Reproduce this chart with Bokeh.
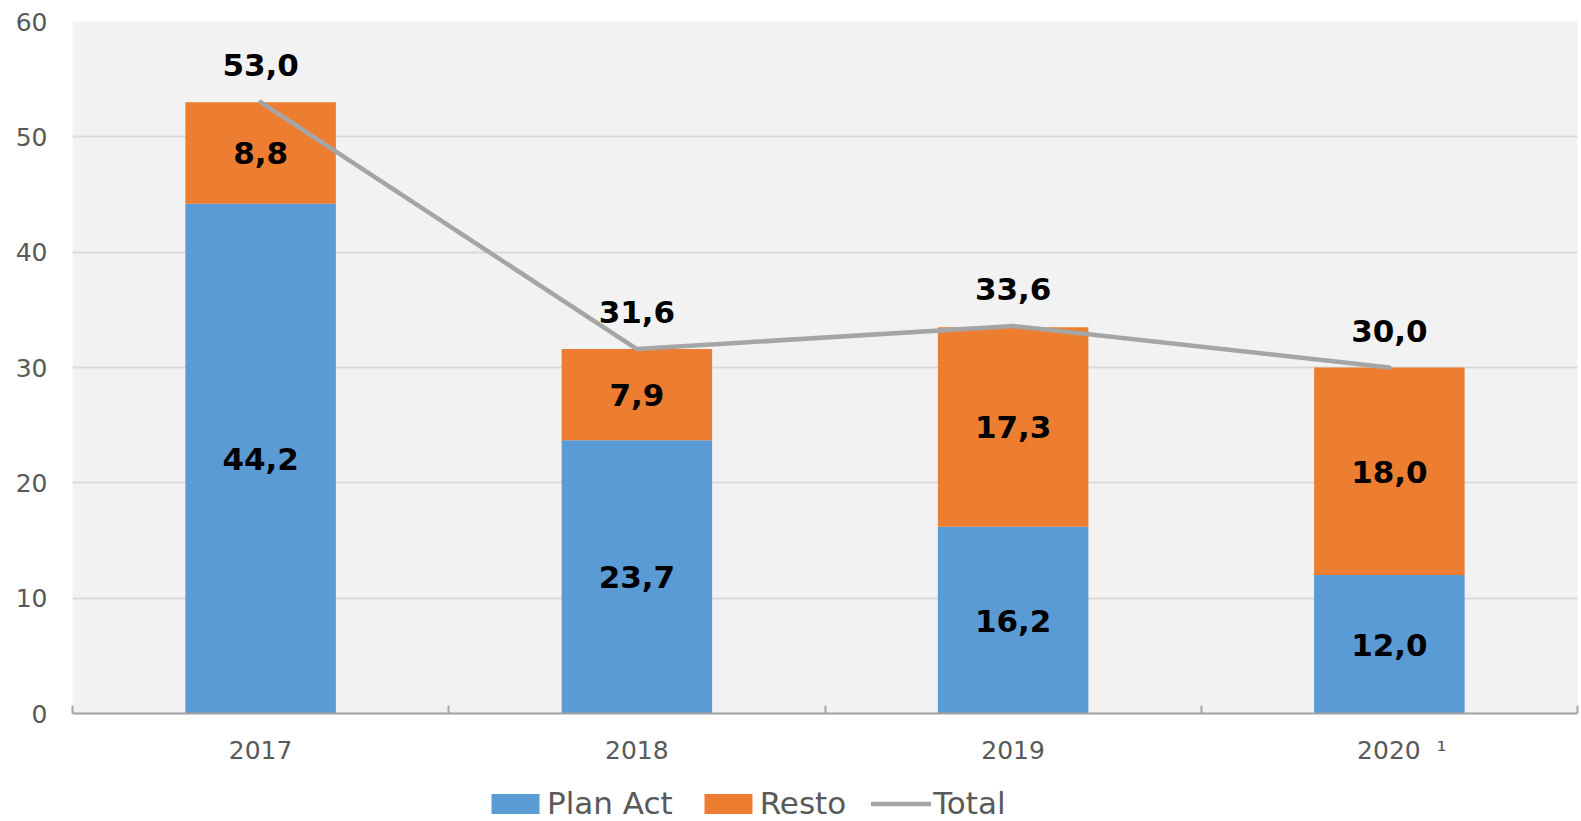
from bokeh.plotting import figure
from bokeh.models import (Range1d, FixedTicker, ColumnDataSource, LabelSet, Legend, LegendItem)
from bokeh.layouts import column
from bokeh.core.properties import value
from bokeh.embed import file_html
from bokeh.resources import INLINE

categories = ["2017", "2018", "2019", "2020"]
footnotes = ["", "", "", "¹"]
plan_act = [44.2, 23.7, 16.2, 12.0]
resto = [8.8, 7.9, 17.3, 18.0]
total = [53.0, 31.6, 33.6, 30.0]
y_ticks = [0, 10, 20, 30, 40, 50, 60]
series_names = ["Plan Act", "Resto", "Total"]

BLUE = "#5B9BD5"
ORANGE = "#ED7D31"
GRAY = "#A5A5A5"
TXT = "#595959"
FONT = "DejaVu Sans"

def fmt(v):
    return f"{v:.1f}".replace(".", ",")

xs = [i + 0.5 for i in range(len(categories))]
resto_top = [a + b for a, b in zip(plan_act, resto)]
plan_mid = [a / 2 for a in plan_act]
resto_mid = [a + b / 2 for a, b in zip(plan_act, resto)]

def tick_label(cat, note):
    if not note:
        return cat
    # pad left so the year itself stays centred under its bar
    return "\u2003" + cat + "\u00a0\u00a0" + note

src = ColumnDataSource(dict(
    x=xs, plan=plan_act, resto=resto, resto_top=resto_top, total=total,
    plan_mid=plan_mid, resto_mid=resto_mid,
    plan_lbl=[fmt(v) for v in plan_act], resto_lbl=[fmt(v) for v in resto],
    total_lbl=[fmt(v) for v in total],
))

p = figure(width=1581, height=773, output_backend="svg", toolbar_location=None,
           x_range=Range1d(0, len(categories)), y_range=Range1d(0, 60),
           min_border_left=72, min_border_right=4, min_border_top=21, min_border_bottom=60)
p.background_fill_color = "#F2F2F2"
p.border_fill_color = "white"
p.outline_line_color = None

p.xgrid.grid_line_color = None
p.ygrid.grid_line_color = "#D9D9D9"
p.ygrid.grid_line_width = 2
p.ygrid.ticker = FixedTicker(ticks=y_ticks)

# y axis
p.yaxis.ticker = FixedTicker(ticks=y_ticks)
p.yaxis.axis_line_color = None
p.yaxis.major_tick_line_color = None
p.yaxis.minor_tick_line_color = None
p.yaxis.major_tick_in = 0
p.yaxis.major_tick_out = 0
p.yaxis.major_label_text_font = FONT
p.yaxis.major_label_text_font_size = "25px"
p.yaxis.major_label_text_color = TXT
p.yaxis.major_label_standoff = 25

# x axis
p.xaxis.ticker = FixedTicker(ticks=xs, minor_ticks=list(range(len(categories) + 1)))
p.xaxis.major_label_overrides = {x: tick_label(c, n) for x, c, n in zip(xs, categories, footnotes)}
p.xaxis.axis_line_color = "#A0A0A0"
p.xaxis.axis_line_width = 2
p.xaxis.major_tick_line_color = None
p.xaxis.major_tick_in = 0
p.xaxis.major_tick_out = 0
p.xaxis.minor_tick_line_color = "#A6A6A6"
p.xaxis.minor_tick_line_width = 2
p.xaxis.minor_tick_in = 8
p.xaxis.minor_tick_out = 0
p.xaxis.major_label_text_font = FONT
p.xaxis.major_label_text_font_size = "25px"
p.xaxis.major_label_text_color = TXT
p.xaxis.major_label_standoff = 22

bar_style = dict(width=0.4, source=src, line_color=None)
p.vbar(x="x", top="plan", bottom=0, fill_color=BLUE, **bar_style)
p.vbar(x="x", top="resto_top", bottom="plan", fill_color=ORANGE, **bar_style)
p.line(x="x", y="total", source=src, line_color=GRAY, line_width=4.5, line_cap="round")

common = dict(text_font=value(FONT), text_font_size="31px", text_font_style="bold",
              text_color="black", text_align="center", text_baseline="alphabetic")
p.add_layout(LabelSet(x="x", y="plan_mid", text="plan_lbl", source=src, y_offset=-11.5, **common))
p.add_layout(LabelSet(x="x", y="resto_mid", text="resto_lbl", source=src, y_offset=-11.5, **common))
p.add_layout(LabelSet(x="x", y="total", text="total_lbl", source=src, y_offset=26, **common))

# legend strip below the chart; its glyphs use the same data but lie outside its view
lg = figure(width=1581, height=48, output_backend="svg", toolbar_location=None,
            x_range=Range1d(0, len(categories)), y_range=Range1d(1000, 1001), min_border=0)
lg.axis.visible = False
lg.grid.visible = False
lg.outline_line_color = None
lg.background_fill_color = "white"
g1 = lg.vbar(x="x", top="plan", bottom=0, fill_color=BLUE, **bar_style)
g2 = lg.vbar(x="x", top="resto_top", bottom="plan", fill_color=ORANGE, **bar_style)
g3 = lg.line(x="x", y="total", source=src, line_color=GRAY, line_width=4.5, line_cap="round")

legend = Legend(items=[LegendItem(label=n, renderers=[r]) for n, r in zip(series_names, [g1, g2, g3])],
                orientation="horizontal", location=(413, 0),
                padding=0, margin=0, spacing=25, label_standoff=2,
                glyph_width=60, glyph_height=25,
                label_text_font=FONT, label_text_font_size="31px", label_text_color=TXT,
                border_line_color=None, background_fill_alpha=0)
lg.add_layout(legend, "center")

open("out.html", "w").write(file_html(column(p, lg, spacing=0), INLINE))
